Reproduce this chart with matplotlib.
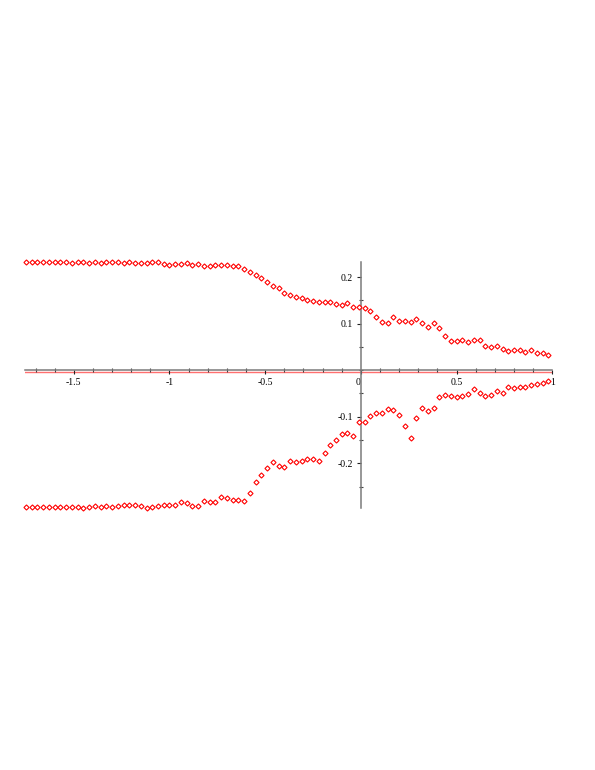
import numpy as np
import matplotlib.pyplot as plt
from matplotlib.ticker import MultipleLocator, FixedLocator

plt.rcParams['font.family'] = ['Liberation Serif', 'DejaVu Serif']
plt.rcParams['axes.unicode_minus'] = False

# sample grid: -1.75 .. 0.98, step 0.03
x_start = -1.75
x_step = 0.03

upper = [0.232, 0.232, 0.232, 0.232, 0.232, 0.232, 0.232, 0.232, 0.231, 0.232,
         0.232, 0.231, 0.233, 0.230, 0.232, 0.233, 0.232, 0.231, 0.232, 0.231,
         0.230, 0.231, 0.232, 0.232, 0.229, 0.226, 0.228, 0.228, 0.231, 0.227,
         0.229, 0.225, 0.223, 0.226,
         0.226, 0.226, 0.225, 0.223, 0.218, 0.210, 0.205, 0.198, 0.190, 0.180,
         0.176, 0.165, 0.162, 0.158, 0.156, 0.150, 0.148, 0.147, 0.146, 0.146,
         0.142, 0.141, 0.144, 0.135, 0.135, 0.133, 0.127, 0.114, 0.104,
         0.102, 0.114, 0.105, 0.106, 0.104, 0.111, 0.102, 0.092, 0.101, 0.091,
         0.074, 0.063, 0.063, 0.064, 0.061, 0.066, 0.066, 0.051, 0.049, 0.051,
         0.046, 0.041, 0.044, 0.043, 0.040, 0.043, 0.037, 0.036, 0.032]

lower = [-0.294, -0.294, -0.294, -0.294, -0.294, -0.294, -0.294, -0.294, -0.293, -0.294,
         -0.296, -0.293, -0.291, -0.294, -0.292, -0.294,
         -0.291, -0.290, -0.290, -0.290, -0.291, -0.295, -0.293, -0.291, -0.290, -0.290,
         -0.290, -0.284, -0.286, -0.292, -0.292, -0.281, -0.283, -0.283,
         -0.273, -0.275, -0.278, -0.278, -0.280, -0.263, -0.241, -0.225, -0.210, -0.197,
         -0.206, -0.208, -0.195, -0.197, -0.194, -0.190, -0.190, -0.195, -0.177, -0.160,
         -0.149, -0.138, -0.135, -0.142, -0.112, -0.111, -0.098, -0.091, -0.091,
         -0.083, -0.085, -0.097, -0.120, -0.145, -0.103, -0.081, -0.088, -0.081, -0.057,
         -0.054, -0.055, -0.058, -0.056, -0.051, -0.041, -0.050, -0.055, -0.053, -0.045,
         -0.048, -0.035, -0.039, -0.035, -0.037, -0.032, -0.030, -0.028, -0.023]

x_ticks = [-1.5, -1, -0.5, 0, 0.5, 1]
x_labels = ['-1.5', '-1', '-0.5', '0', '0.5', '1']
y_ticks = [-0.2, -0.1, 0.1, 0.2]
y_labels = ['-0.2', '-0.1', '0.1', '0.2']

xs = x_start + x_step * np.arange(len(upper))

fig = plt.figure(figsize=(5.95, 7.7), dpi=100)
ax = fig.add_axes([0.042, 0.3403, 0.8862, 0.3191])

for ys in (upper, lower):
    ax.plot(xs, ys, linestyle='none', marker='D', ms=2.6, mew=0.8,
            mec='red', mfc='white', clip_on=False, zorder=3)

# faint red line just under the horizontal axis
ax.axhline(-0.0042, color='#ff7070', lw=1.0, zorder=1)

ax.set_xlim(-1.755, 1.0)
ax.set_ylim(-0.296, 0.232)

for side in ('top', 'right'):
    ax.spines[side].set_visible(False)
for side in ('left', 'bottom'):
    ax.spines[side].set_position('zero')
    ax.spines[side].set_color('#7a7a7a')
    ax.spines[side].set_linewidth(1.1)

ax.xaxis.set_major_locator(FixedLocator(x_ticks))
ax.set_xticklabels(x_labels)
ax.xaxis.set_minor_locator(MultipleLocator(0.1))
ax.yaxis.set_major_locator(FixedLocator(y_ticks))
ax.set_yticklabels(y_labels)
ax.yaxis.set_minor_locator(MultipleLocator(0.05))

ax.tick_params(which='major', direction='out', length=3, width=0.8,
               color='#222222', labelsize=7, pad=2.5)
ax.tick_params(which='minor', direction='inout', length=2.5, width=0.8,
               color='#444444')
for lab in ax.get_xticklabels():
    if lab.get_text() == '0':
        lab.set_ha('right')

fig.savefig('out.png', dpi=100)
